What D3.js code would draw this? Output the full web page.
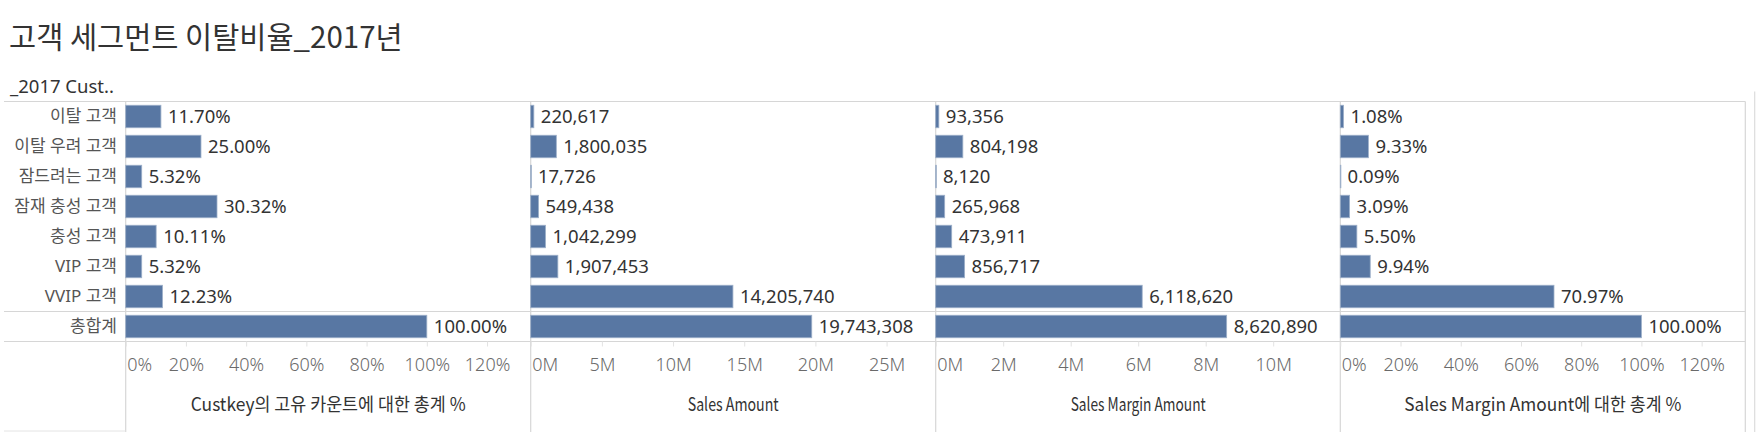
<!DOCTYPE html>
<html>
<head>
<meta charset="utf-8">
<script src="https://cdn.jsdelivr.net/npm/d3@7"></script>
<style>
  html, body { margin: 0; padding: 0; background: #fff; }
  svg { display: block; }
</style>
</head>
<body>
<svg id="chart" width="1758" height="432"></svg>
<script>
// ---------------- DATA ----------------
const categories = ["이탈 고객", "이탈 우려 고객", "잠드려는 고객", "잠재 충성 고객", "충성 고객", "VIP 고객", "VVIP 고객", "총합계"];
const custPct = [11.70, 25.00, 5.32, 30.32, 10.11, 5.32, 12.23, 100.00];
const salesAmount = [220617, 1800035, 17726, 549438, 1042299, 1907453, 14205740, 19743308];
const marginAmount = [93356, 804198, 8120, 265968, 473911, 856717, 6118620, 8620890];
const marginPct = [1.08, 9.33, 0.09, 3.09, 5.50, 9.94, 70.97, 100.00];

const pctTicks = [0, 20, 40, 60, 80, 100, 120];
const salesTicks = [0, 5e6, 10e6, 15e6, 20e6, 25e6];
const marginTicks = [0, 2e6, 4e6, 6e6, 8e6, 10e6];

const axisTitles = ["Custkey의 고유 카운트에 대한 총계 %", "Sales Amount", "Sales Margin Amount", "Sales Margin Amount에 대한 총계 %"];
const title = "고객 세그먼트 이탈비율_2017년";
const rowHeader = "_2017 Cust..";

// ---------------- LAYOUT ----------------
const svg = d3.select("#chart");
const W = 1758, H = 432;
const panelLefts = [125.7, 530.7, 935.7, 1340.3];
const panelW = 405;
const yTop = 101.5, yBottom = 341.5;
const gridColor = "#d6d6d6";
const barColor = "#5877a3";
const latin = "'Noto Sans', 'Noto Sans CJK KR', sans-serif";
const kr = "'Noto Sans CJK KR', 'Noto Sans', sans-serif";
const axisTitleWidths = [275, 91, 135, 277];

const fmtPct = v => d3.format(".2f")(v) + "%";
const fmtNum = d3.format(",");
const panels = [
  { values: custPct, max: 134.5, ticks: pctTicks, tickFmt: d => d + "%", labelFmt: fmtPct },
  { values: salesAmount, max: 28.45e6, ticks: salesTicks, tickFmt: d => (d / 1e6) + "M", labelFmt: fmtNum },
  { values: marginAmount, max: 12e6, ticks: marginTicks, tickFmt: d => (d / 1e6) + "M", labelFmt: fmtNum },
  { values: marginPct, max: 134.5, ticks: pctTicks, tickFmt: d => d + "%", labelFmt: fmtPct }
];

const y = d3.scaleBand().domain(categories).range([yTop, yBottom]).paddingInner(0.25).paddingOuter(0.125);

// Title
svg.append("text").attr("x", 9).attr("y", 48)
  .attr("font-family", kr).attr("font-weight", 400).attr("font-size", 29.5)
  .attr("fill", "#333").text(title);

// Row header
svg.append("text").attr("x", 10).attr("y", 93)
  .attr("font-family", latin).attr("font-size", 18.5).attr("font-weight", 400)
  .attr("fill", "#333").text(rowHeader);

// Grid lines
const lastRight = panelLefts[3] + panelW;
[yTop, y("총합계") - (y.step() - y.bandwidth()) / 2, yBottom].forEach(yy => {
  svg.append("line").attr("x1", 4).attr("x2", lastRight).attr("y1", yy).attr("y2", yy)
    .attr("stroke", gridColor).attr("stroke-width", 1.2);
});
panelLefts.concat([lastRight]).forEach(xx => {
  svg.append("line").attr("x1", xx).attr("x2", xx).attr("y1", yTop).attr("y2", H)
    .attr("stroke", gridColor).attr("stroke-width", 1.2);
});
svg.append("line").attr("x1", 1754.7).attr("x2", 1754.7).attr("y1", yTop - 10).attr("y2", H)
  .attr("stroke", "#dcdcdc").attr("stroke-width", 1.2);
svg.append("line").attr("x1", 4).attr("x2", panelLefts[0]).attr("y1", 431).attr("y2", 431)
  .attr("stroke", "#e4e4e4").attr("stroke-width", 1);

// Row labels
svg.append("g").selectAll("text").data(categories).join("text")
  .attr("x", 117).attr("y", d => y(d) + y.bandwidth() / 2).attr("dy", "0.35em")
  .attr("text-anchor", "end").attr("font-family", latin).attr("font-size", 17)
  .attr("fill", "#555").text(d => d);

// Panels
panels.forEach((p, i) => {
  const left = panelLefts[i];
  const x = d3.scaleLinear().domain([0, p.max]).range([left, left + panelW]);
  const g = svg.append("g");

  g.selectAll("rect").data(categories).join("rect")
    .attr("x", x(0)).attr("y", d => y(d))
    .attr("width", (d, k) => Math.max(0.6, x(p.values[k]) - x(0)))
    .attr("height", y.bandwidth())
    .attr("fill", barColor).attr("stroke", "#9db0c9").attr("stroke-width", 0.8);

  g.selectAll("text.val").data(categories).join("text").attr("class", "val")
    .attr("x", (d, k) => x(p.values[k]) + 7).attr("y", d => y(d) + y.bandwidth() / 2)
    .attr("dy", "0.35em").attr("font-family", latin).attr("font-size", 18.5)
    .attr("fill", "#333").text((d, k) => p.labelFmt(p.values[k]));

  const axis = d3.axisBottom(x).tickValues(p.ticks).tickFormat(p.tickFmt).tickSize(5).tickSizeOuter(0);
  const ag = svg.append("g").attr("transform", `translate(0,${yBottom})`).call(axis);
  ag.select(".domain").remove();
  ag.selectAll(".tick line").attr("stroke", "#e3e3e3");
  ag.selectAll(".tick text").attr("y", 23.5).attr("dy", "0.35em")
    .attr("font-family", latin).attr("font-weight", 300).attr("font-size", 18).attr("fill", "#6a6a6a");
  ag.selectAll(".tick").filter(d => d === 0).select("text")
    .attr("text-anchor", "start").attr("x", 1);

  svg.append("text").attr("x", left + panelW / 2).attr("y", 411)
    .attr("text-anchor", "middle").attr("font-family", kr).attr("font-size", 18.5)
    .attr("font-weight", 400)
    .attr("textLength", axisTitleWidths[i]).attr("lengthAdjust", "spacingAndGlyphs")
    .attr("fill", "#333").text(axisTitles[i]);
});
</script>
</body>
</html>
